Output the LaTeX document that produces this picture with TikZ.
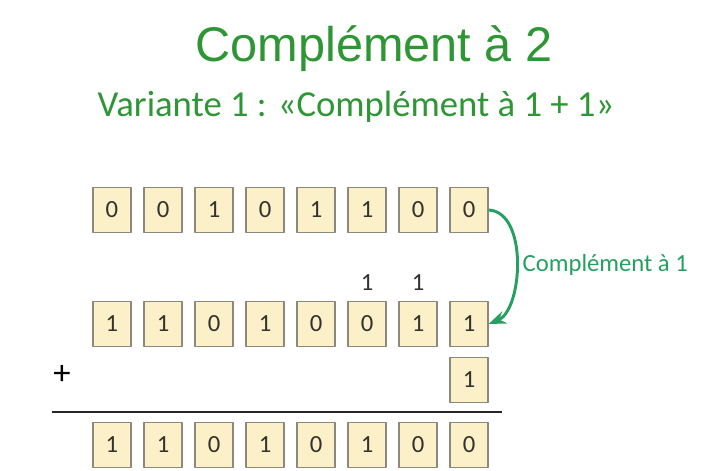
\documentclass[tikz,border=0pt]{standalone}
\usepackage{fontspec}
\setmainfont{Carlito}
\newfontfamily\titlefont{Liberation Sans}
\usepackage{xcolor}
\usetikzlibrary{arrows.meta}
\definecolor{titlegreen}{RGB}{46,150,52}
\definecolor{arrowgreen}{RGB}{38,160,96}
\definecolor{boxfill}{RGB}{252,240,200}
\definecolor{boxline}{RGB}{140,136,126}
\definecolor{digit}{RGB}{50,50,46}

\begin{document}
\begin{tikzpicture}[x=0.75pt,y=-0.75pt,>=Stealth,line join=round,
  bit/.style={draw=boxline,fill=boxfill,line width=0.9pt,minimum width=28.5pt,
    minimum height=34pt,inner sep=0pt,font=\fontsize{18.5}{18.5}\selectfont,text=digit},
  carry/.style={font=\fontsize{18.5}{18.5}\selectfont,text=digit}]
  \useasboundingbox (0,0) rectangle (704,471);
  \node[font=\titlefont\fontsize{36.5}{40}\selectfont,text=titlegreen] (title) at (374,49) {Complément à 2};
  \node[font=\fontsize{27.5}{30}\selectfont,text=titlegreen] (subtitle) at (356,107) {Variante 1 : «Complément à 1 + 1»};
  % nombre de depart
  \node[bit] (a1) at (112,210) {0};
  \node[bit] (a2) at (163,210) {0};
  \node[bit] (a3) at (214,210) {1};
  \node[bit] (a4) at (265,210) {0};
  \node[bit] (a5) at (316,210) {1};
  \node[bit] (a6) at (367,210) {1};
  \node[bit] (a7) at (418,210) {0};
  \node[bit] (a8) at (469,210) {0};
  % complement a 1
  \node[bit] (b1) at (112,324) {1};
  \node[bit] (b2) at (163,324) {1};
  \node[bit] (b3) at (214,324) {0};
  \node[bit] (b4) at (265,324) {1};
  \node[bit] (b5) at (316,324) {0};
  \node[bit] (b6) at (367,324) {0};
  \node[bit] (b7) at (418,324) {1};
  \node[bit] (b8) at (469,324) {1};
  \node[carry] (r6) at (367,283) {1};
  \node[carry] (r7) at (418,283) {1};
  % +1
  \node[font=\fontsize{26}{26}\selectfont,text=black] (plus) at (62,375) {+};
  \node[bit] (c8) at (469,380) {1};
  \coordinate (L0) at (52,412);
  \coordinate (L1) at (502,412);
  \draw[line width=1.1pt,black!85] (L0) -- (L1);
  % resultat
  \node[bit] (d1) at (112,445) {1};
  \node[bit] (d2) at (163,445) {1};
  \node[bit] (d3) at (214,445) {0};
  \node[bit] (d4) at (265,445) {1};
  \node[bit] (d5) at (316,445) {0};
  \node[bit] (d6) at (367,445) {1};
  \node[bit] (d7) at (418,445) {0};
  \node[bit] (d8) at (469,445) {0};
  \draw[->,line width=2.2pt,arrowgreen] (a8.east) .. controls +(40,2) and +(34,-14) .. (b8.east);
  \node[anchor=west,font=\fontsize{18.5}{18.5}\selectfont,text=arrowgreen] (lbl) at (518,265) {Complément à 1};
\end{tikzpicture}
\end{document}
